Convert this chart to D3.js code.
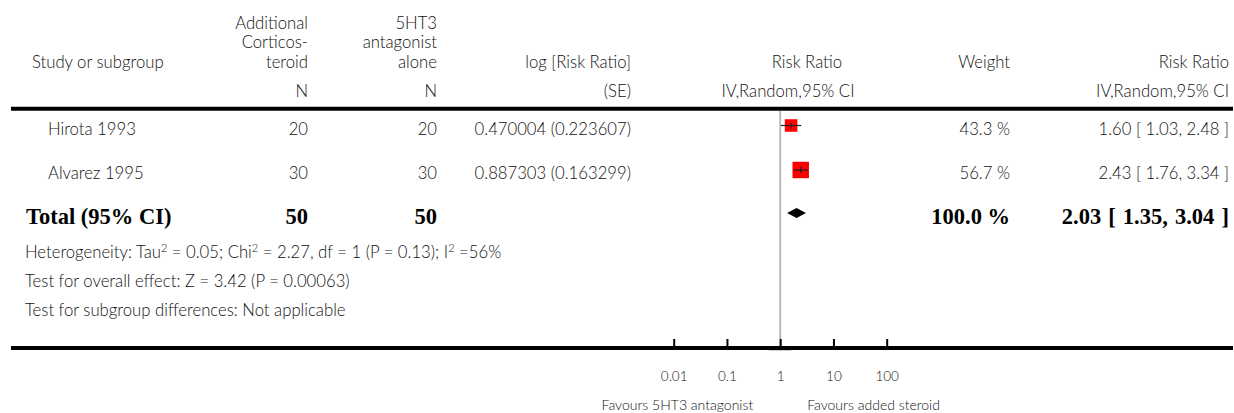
<!DOCTYPE html>
<html>
<head>
<meta charset="utf-8">
<script src="https://cdn.jsdelivr.net/npm/d3@7"></script>
<style>
  body { margin: 0; background: #fff; }
  svg text { font-family: Lato, 'Open Sans', sans-serif; font-weight: 300; fill: #111; }
  .total text { font-family: 'Liberation Serif', 'Times New Roman', serif; font-weight: bold; fill: #000; }
</style>
</head>
<body>
<div id="chart"></div>
<script>
// forest plot data
const studies = ['Hirota 1993', 'Alvarez 1995'];
const nSteroid = [20, 30];
const nAlone = [20, 30];
const logRR = ['0.470004', '0.887303'];
const logSE = ['0.223607', '0.163299'];
const rr = [1.60, 2.43];
const rrLow = [1.03, 1.76];
const rrHigh = [2.48, 3.34];
const weights = [43.3, 56.7];

const totalN = [50, 50];
const totalRR = [2.03, 1.35, 3.04]; // estimate, low, high
const totalWeight = 100.0;

const footnotes = [
  'Heterogeneity: Tau\u00b2 = 0.05; Chi\u00b2 = 2.27, df = 1 (P = 0.13); I\u00b2 =56%',
  'Test for overall effect: Z = 3.42 (P = 0.00063)',
  'Test for subgroup differences: Not applicable'
];
const tickValues = [0.01, 0.1, 1, 10, 100];
const tickLabels = ['0.01', '0.1', '1', '10', '100'];
const favours = ['Favours 5HT3 antagonist', 'Favours added steroid'];

const width = 1234;
const height = 413;

const svg = d3
  .select('#chart')
  .append('svg')
  .attr('width', width)
  .attr('height', height);

const x = d3.scaleLog().domain([0.01, 100]).range([673.7, 886.7]);
const y = d3.scalePoint().domain(studies).range([125.5, 170]);
const side = d3.scaleLinear().domain([0, 100]).range([0, 29]);
const yTotal = 213;
const textShift = 3.5; // text sits a bit lower than the marks

const fmt2 = d3.format('.2f');
const ciText = (e, l, h) => `${fmt2(e)} [ ${fmt2(l)}, ${fmt2(h)} ]`;

// column right edges
const col = { n1: 308, n2: 437, lrr: 631, weight: 1010, rr: 1229 };

function txt(g, t, xx, yy, anchor, size) {
  return g
    .append('text')
    .attr('x', xx)
    .attr('y', yy)
    .attr('dy', '0.35em')
    .attr('text-anchor', anchor)
    .style('font-size', size + 'px')
    .text(t);
}

// header
const head = svg.append('g');
const hy = [23, 42, 62, 91];
const fs = 16.7;
txt(head, 'Study or subgroup', 32, hy[2], 'start', fs);
['Additional', 'Corticos-', 'teroid', 'N'].forEach((t, i) => txt(head, t, col.n1, hy[i], 'end', fs));
['5HT3', 'antagonist', 'alone', 'N'].forEach((t, i) => txt(head, t, col.n2, hy[i], 'end', fs));
txt(head, 'log [Risk Ratio]', col.lrr, hy[2], 'end', fs);
txt(head, '(SE)', col.lrr, hy[3], 'end', fs);
txt(head, 'Risk Ratio', 807, hy[2], 'middle', fs);
txt(head, 'IV,Random,95% CI', 788, hy[3], 'middle', fs);
txt(head, 'Weight', col.weight, hy[2], 'end', fs);
txt(head, 'Risk Ratio', col.rr, hy[2], 'end', fs);
txt(head, 'IV,Random,95% CI', col.rr, hy[3], 'end', fs);

// rules
svg.append('line').attr('x1', 11).attr('x2', 1233).attr('y1', 108.7).attr('y2', 108.7)
  .attr('stroke', '#000').attr('stroke-width', 4);
svg.append('line').attr('x1', 11).attr('x2', 1233).attr('y1', 348).attr('y2', 348)
  .attr('stroke', '#000').attr('stroke-width', 4);

// line of no effect
svg.append('line').attr('x1', x(1)).attr('x2', x(1)).attr('y1', 111).attr('y2', 346)
  .attr('stroke', '#bbb').attr('stroke-width', 2);
svg.append('line').attr('x1', x(1) - 11).attr('x2', x(1) + 11).attr('y1', 350.5).attr('y2', 350.5)
  .attr('stroke', '#ccc').attr('stroke-width', 1);

// study rows
const rows = svg.append('g');
studies.forEach((s, i) => {
  const yy = y(s) + textShift;
  txt(rows, s, 48, yy, 'start', fs);
  txt(rows, nSteroid[i], col.n1, yy, 'end', fs);
  txt(rows, nAlone[i], col.n2, yy, 'end', fs);
  txt(rows, `${logRR[i]} (${logSE[i]})`, col.lrr, yy, 'end', fs);
  txt(rows, weights[i].toFixed(1) + ' %', col.weight, yy, 'end', fs);
  txt(rows, ciText(rr[i], rrLow[i], rrHigh[i]), col.rr, yy, 'end', fs);
});

// squares + CI
const marks = svg.append('g');
marks
  .selectAll('rect')
  .data(studies)
  .join('rect')
  .attr('x', (d, i) => x(rr[i]) - side(weights[i]) / 2)
  .attr('y', (d, i) => y(d) - side(weights[i]) / 2)
  .attr('width', (d, i) => side(weights[i]))
  .attr('height', (d, i) => side(weights[i]))
  .attr('fill', '#ff0000');
marks
  .selectAll('line.ci')
  .data(studies)
  .join('line')
  .attr('class', 'ci')
  .attr('x1', (d, i) => x(rrLow[i]))
  .attr('x2', (d, i) => x(rrHigh[i]))
  .attr('y1', d => y(d))
  .attr('y2', d => y(d))
  .attr('stroke', '#222')
  .attr('stroke-width', 1.2);
marks
  .selectAll('line.pt')
  .data(studies)
  .join('line')
  .attr('class', 'pt')
  .attr('x1', (d, i) => x(rr[i]))
  .attr('x2', (d, i) => x(rr[i]))
  .attr('y1', d => y(d) - 3)
  .attr('y2', d => y(d) + 3)
  .attr('stroke', '#222')
  .attr('stroke-width', 1.2);

// total row
const tot = svg.append('g').attr('class', 'total');
const tfs = 22.5;
txt(tot, 'Total (95% CI)', 26, yTotal + textShift, 'start', tfs);
txt(tot, totalN[0], col.n1, yTotal + textShift, 'end', tfs);
txt(tot, totalN[1], col.n2, yTotal + textShift, 'end', tfs);
txt(tot, totalWeight.toFixed(1) + ' %', col.weight, yTotal + textShift, 'end', tfs);
txt(tot, ciText(totalRR[0], totalRR[1], totalRR[2]), col.rr, yTotal + textShift, 'end', tfs)
  .style('word-spacing', '1.5px');

svg
  .append('path')
  .attr('d', () => {
    const [e, l, h] = totalRR;
    return `M${x(l)},${yTotal} L${x(e)},${yTotal - 5} L${x(h)},${yTotal} L${x(e)},${yTotal + 5} Z`;
  })
  .attr('fill', '#000');

// footnotes, superscripts as raised tspans
const notes = svg.append('g');
footnotes.forEach((t, i) => {
  const el = txt(notes, '', 25, [252, 281, 310][i], 'start', fs);
  t.split('\u00b2').forEach((part, j) => {
    if (j > 0) {
      el.append('tspan').attr('baseline-shift', 'super').style('font-size', '11px').text('2');
    }
    el.append('tspan').text(part);
  });
});

// axis
const axis = d3
  .axisBottom(x)
  .tickValues(tickValues)
  .tickFormat((d, i) => tickLabels[i])
  .tickSizeInner(-7)
  .tickSizeOuter(0)
  .tickPadding(25);

const ax = svg.append('g').attr('transform', 'translate(0,346)').call(axis);
ax.select('.domain').remove();
ax.selectAll('.tick line').attr('stroke', '#000').attr('stroke-width', 2);
ax.selectAll('.tick text')
  .style('font-size', '13.5px')
  .style('font-family', 'Lato, sans-serif')
  .style('font-weight', 300)
  .attr('fill', '#111');

txt(svg, favours[0], x(1) - 27, 405, 'end', 14);
txt(svg, favours[1], x(1) + 27, 405, 'start', 14);
</script>
</body>
</html>
